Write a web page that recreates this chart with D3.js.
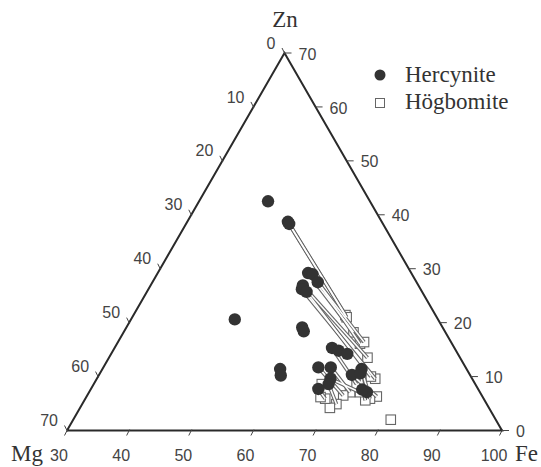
<!DOCTYPE html>
<html>
<head>
<meta charset="utf-8">
<script src="https://cdn.jsdelivr.net/npm/d3@7"></script>
<style>
  body { margin: 0; background: #fff; }
  svg { display: block; }
  .tick-label { font-family: "Liberation Sans", Arial, sans-serif; font-size: 16px; fill: #444; }
  .name { font-family: "Liberation Serif", "Times New Roman", serif; font-size: 23px; fill: #333; }
</style>
</head>
<body>
<svg id="chart" width="541" height="467"></svg>
<script>
// ternary values as [Mg, Fe, Zn] (mol %)
const hercynite = [
  [16.4, 41.1, 42.5], [15.1, 46.2, 38.7], [15.1, 46.6, 38.3],
  [16.6, 54.2, 29.2], [16.0, 55.0, 29.0], [15.9, 56.6, 27.5],
  [18.6, 54.5, 26.9], [19.1, 54.7, 26.2], [18.6, 55.7, 25.7],
  [32.7, 46.7, 20.6], [22.6, 58.3, 19.1], [22.7, 58.9, 18.4],
  [19.7, 65.0, 15.3], [18.9, 66.3, 14.8], [17.8, 68.0, 14.2],
  [30.0, 58.6, 11.4], [30.5, 59.3, 10.2], [23.7, 64.6, 11.7],
  [21.7, 66.6, 11.7], [22.8, 67.6, 9.6], [23.6, 67.8, 8.6],
  [19.0, 70.7, 10.3], [16.9, 71.7, 11.4], [17.5, 71.9, 10.6],
  [25.7, 66.6, 7.7], [18.2, 74.7, 7.1], [18.7, 73.7, 7.6]
];
const hogbomite = [
  [14.5, 64.1, 21.4], [14.5, 64.5, 21.0], [14.8, 67.0, 18.2],
  [14.8, 69.1, 16.1], [14.0, 69.6, 16.4], [14.9, 71.6, 13.5],
  [15.6, 74.8, 9.6], [16.1, 73.9, 10.0], [17.0, 76.7, 6.3],
  [18.3, 75.8, 5.9], [19.2, 75.2, 5.6], [19.3, 73.6, 7.1],
  [20.9, 72.0, 7.1], [22.3, 71.2, 6.5], [24.2, 70.9, 4.9],
  [25.6, 70.2, 4.2], [25.5, 68.6, 5.9], [26.1, 67.7, 6.2],
  [24.7, 66.7, 8.6], [19.1, 72.3, 8.6], [16.9, 81.1, 2.0]
];
// tie lines: [hercynite index, högbomite index]
const ties = [
  [1, 0], [2, 1], [3, 2], [4, 3], [5, 4], [6, 5], [7, 6], [8, 7],
  [12, 19], [17, 13], [18, 12], [19, 11], [20, 14], [24, 16],
  [21, 8], [22, 9], [23, 10]
];
const feTicks = [30, 40, 50, 60, 70, 80, 90, 100];
const mgTicks = [0, 10, 20, 30, 40, 50, 60, 70];
const znTicks = [0, 10, 20, 30, 40, 50, 60, 70];
const series = ['Hercynite', 'Högbomite'];

const svg = d3.select('#chart');

// triangle corners: Mg (left), Fe (right), Zn (top)
const L = [67, 430.5], R = [502, 430.5], T = [284.5, 53];

const mgScale = d3.scaleLinear().domain([0, 70]).range([0, 1]);
const feScale = d3.scaleLinear().domain([30, 100]).range([0, 1]);
const znScale = d3.scaleLinear().domain([0, 70]).range([0, 1]);

const project = d => {
  const a = mgScale(d[0]), b = feScale(d[1]), c = znScale(d[2]);
  const s = a + b + c;
  return [
    (a * L[0] + b * R[0] + c * T[0]) / s,
    (a * L[1] + b * R[1] + c * T[1]) / s
  ];
};

const lerp = (p, q, t) => [p[0] + (q[0] - p[0]) * t, p[1] + (q[1] - p[1]) * t];

// frame
svg.append('path')
  .attr('d', d3.line()([L, R, T, L]))
  .attr('fill', 'none')
  .attr('stroke', '#2a2a2a')
  .attr('stroke-width', 2)
  .attr('stroke-linejoin', 'miter');

const axis = svg.append('g').attr('stroke', '#444').attr('stroke-width', 1);

// bottom axis (Fe)
feTicks.forEach(v => {
  const p = lerp(L, R, feScale(v));
  axis.append('line')
    .attr('x1', p[0] + 0.5).attr('y1', p[1] - 1)
    .attr('x2', p[0] - 2.5).attr('y2', p[1] + 5);
  svg.append('text')
    .attr('class', 'tick-label')
    .attr('x', p[0] - 8).attr('y', p[1] + 30)
    .attr('text-anchor', 'middle')
    .text(v);
});

// left axis (Mg, 0 at top)
mgTicks.forEach(v => {
  const p = lerp(T, L, mgScale(v));
  axis.append('line')
    .attr('x1', p[0] + 0.5).attr('y1', p[1] + 1)
    .attr('x2', p[0] - 2.5).attr('y2', p[1] - 5);
  svg.append('text')
    .attr('class', 'tick-label')
    .attr('x', p[0] - 9).attr('y', p[1] - 10)
    .attr('dy', '0.35em')
    .attr('text-anchor', 'end')
    .text(v);
});

// right axis (Zn, 0 at bottom)
znTicks.forEach(v => {
  const p = lerp(R, T, znScale(v));
  axis.append('line')
    .attr('x1', p[0]).attr('y1', p[1])
    .attr('x2', p[0] + 7).attr('y2', p[1]);
  svg.append('text')
    .attr('class', 'tick-label')
    .attr('x', p[0] + 14).attr('y', p[1] + 1)
    .attr('dy', '0.35em')
    .text(v);
});

// corner names
svg.append('text').attr('class', 'name').attr('x', 285).attr('y', 27).attr('text-anchor', 'middle').text('Zn');
svg.append('text').attr('class', 'name').attr('x', 11).attr('y', 461).text('Mg');
svg.append('text').attr('class', 'name').attr('x', 515).attr('y', 461).text('Fe');

// högbomite squares
const sq = 9.5;
svg.append('g')
  .selectAll('rect')
  .data(hogbomite)
  .join('rect')
  .attr('x', d => project(d)[0] - sq / 2)
  .attr('y', d => project(d)[1] - sq / 2)
  .attr('width', sq)
  .attr('height', sq)
  .attr('fill', '#fff')
  .attr('stroke', '#666')
  .attr('stroke-width', 1.1);

// tie lines, drawn as a double line
const tieGroup = svg.append('g');
[['#666', 3.8], ['#fff', 1.6]].forEach(([col, w]) => {
  tieGroup.append('g')
    .selectAll('line')
    .data(ties)
    .join('line')
    .attr('x1', d => project(hercynite[d[0]])[0])
    .attr('y1', d => project(hercynite[d[0]])[1])
    .attr('x2', d => project(hogbomite[d[1]])[0])
    .attr('y2', d => project(hogbomite[d[1]])[1])
    .attr('stroke', col)
    .attr('stroke-width', w);
});

// hercynite dots
svg.append('g')
  .selectAll('circle')
  .data(hercynite)
  .join('circle')
  .attr('cx', d => project(d)[0])
  .attr('cy', d => project(d)[1])
  .attr('r', 6.2)
  .attr('fill', '#333');

// legend
const legend = svg.append('g').attr('transform', 'translate(380, 75)');
legend.append('circle').attr('cx', 0).attr('cy', 0).attr('r', 5.5).attr('fill', '#333');
legend.append('rect').attr('x', -4.5).attr('y', 23.5).attr('width', 9).attr('height', 9)
  .attr('fill', '#fff').attr('stroke', '#666');
series.forEach((s, i) => {
  legend.append('text')
    .attr('class', 'name')
    .attr('x', 25)
    .attr('y', 7 + i * 27)
    .style('font-size', '23px')
    .text(s);
});
</script>
</body>
</html>
